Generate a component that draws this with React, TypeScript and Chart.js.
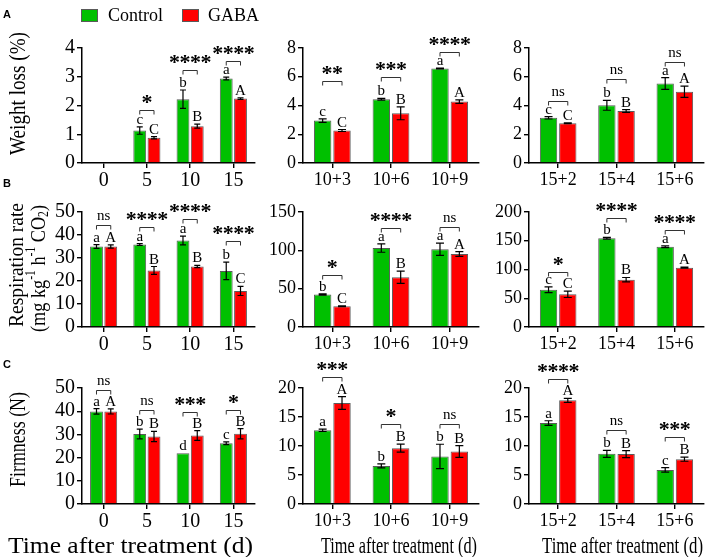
import React, { useEffect, useRef } from 'react';
import { Chart, registerables } from 'chart.js';

Chart.register(...registerables);

// ---------------- data ----------------
const seriesNames = ['Control', 'GABA'];
const dayLabels = ['0', '5', '10', '15'];
const after10Labels = ['10+3', '10+6', '10+9'];
const after15Labels = ['15+2', '15+4', '15+6'];

// Weight loss (%)
const wlDayCtrl = [null, 1.13, 2.22, 2.94];
const wlDayCtrlErr = [0, 0.13, 0.32, 0.05];
const wlDayGaba = [null, 0.88, 1.28, 2.24];
const wlDayGabaErr = [0, 0.04, 0.07, 0.03];
const wlDayCtrlLetters = ['', 'c', 'b', 'a'];
const wlDayGabaLetters = ['', 'C', 'B', 'A'];
const wlDaySig = ['', '*', '****', '****'];
const wlDayBracket = [null, 1.84, 3.23, 3.54];

const wl10Ctrl = [2.95, 4.43, 6.57];
const wl10CtrlErr = [0.12, 0.06, 0.03];
const wl10Gaba = [2.26, 3.46, 4.27];
const wl10GabaErr = [0.07, 0.45, 0.12];
const wl10CtrlLetters = ['c', 'b', 'a'];
const wl10GabaLetters = ['C', 'B', 'A'];
const wl10Sig = ['**', '***', '****'];
const wl10Bracket = [5.69, 5.99, 7.72];

const wl15Ctrl = [3.14, 4.01, 5.53];
const wl15CtrlErr = [0.08, 0.34, 0.41];
const wl15Gaba = [2.77, 3.62, 4.96];
const wl15GabaErr = [0.03, 0.1, 0.39];
const wl15CtrlLetters = ['c', 'b', 'a'];
const wl15GabaLetters = ['C', 'B', 'A'];
const wl15Sig = ['ns', 'ns', 'ns'];
const wl15Bracket = [4.33, 5.81, 7.03];

// Respiration rate (mg kg-1 h-1 CO2)
const rrDayCtrl = [35.0, 35.9, 37.6, 24.4];
const rrDayCtrlErr = [0.8, 0.4, 1.9, 3.8];
const rrDayGaba = [35.0, 24.6, 26.3, 15.7];
const rrDayGabaErr = [0.7, 1.7, 0.5, 2.0];
const rrDayCtrlLetters = ['a', 'a', 'a', 'b'];
const rrDayGabaLetters = ['A', 'B', 'B', 'C'];
const rrDaySig = ['ns', '****', '****', '****'];
const rrDayBracket = [44.2, 43.5, 46.8, 37.2];

const rr10Ctrl = [42.3, 103, 101.5];
const rr10CtrlErr = [0.8, 5.5, 8];
const rr10Gaba = [27.0, 65, 95.2];
const rr10GabaErr = [0.5, 8, 3];
const rr10CtrlLetters = ['b', 'a', 'a'];
const rr10GabaLetters = ['C', 'B', 'A'];
const rr10Sig = ['*', '****', 'ns'];
const rr10Bracket = [68.3, 129.6, 130.4];

const rr15Ctrl = [64.9, 154.5, 139.7];
const rr15CtrlErr = [5, 1.5, 1.5];
const rr15Gaba = [56.8, 82.3, 103.2];
const rr15GabaErr = [5.5, 3.8, 1];
const rr15CtrlLetters = ['c', 'b', 'a'];
const rr15GabaLetters = ['C', 'B', 'A'];
const rr15Sig = ['*', '****', '****'];
const rr15Bracket = [95.7, 190, 169];

// Firmness (N)
const fmDayCtrl = [39.9, 30.2, 21.9, 26.2];
const fmDayCtrlErr = [1.2, 2.1, 0, 0.6];
const fmDayGaba = [39.9, 29.1, 29.5, 30.3];
const fmDayGabaErr = [1.1, 2.2, 2.1, 2.2];
const fmDayCtrlLetters = ['a', 'b', 'd', 'c'];
const fmDayGabaLetters = ['A', 'B', 'B', 'B'];
const fmDaySig = ['ns', 'ns', '***', '*'];
const fmDayBracket = [49.3, 40.6, 39.6, 40.6];

const fm10Ctrl = [12.7, 6.57, 8.2];
const fm10CtrlErr = [0.2, 0.35, 2.1];
const fm10Gaba = [17.4, 9.63, 9.05];
const fm10GabaErr = [1.1, 0.7, 1.0];
const fm10CtrlLetters = ['a', 'b', 'b'];
const fm10GabaLetters = ['A', 'B', 'B'];
const fm10Sig = ['***', '*', 'ns'];
const fm10Bracket = [21.9, 13.8, 13.8];

const fm15Ctrl = [13.95, 8.65, 5.88];
const fm15CtrlErr = [0.4, 0.6, 0.4];
const fm15Gaba = [17.87, 8.6, 7.72];
const fm15GabaErr = [0.35, 0.6, 0.35];
const fm15CtrlLetters = ['a', 'b', 'c'];
const fm15GabaLetters = ['A', 'B', 'B'];
const fm15Sig = ['****', 'ns', '***'];
const fm15Bracket = [21.6, 12.7, 11.6];

const yMaxByRow = [[4, 8, 8], [50, 150, 200], [50, 20, 20]];
const yStepByRow = [[1, 2, 2], [10, 50, 50], [10, 5, 5]];

const rowTitles = ['Weight loss (%)', 'Respiration rate', 'Firmness (N)'];
const xTitle = 'Time after treatment (d)';
const panelLetters = ['A', 'B', 'C'];

// ---------------- styles / layout ----------------
const GREEN = '#00C000';
const RED = '#FF0000';
const BAR_BORDER = '#5a5a5a';
const SERIF = "'Liberation Serif', 'Times New Roman', serif";
const SANS = "'Liberation Sans', Arial, sans-serif";
const PAGE_W = 708;
const PAGE_H = 557;
const X_AXIS_H = 30;
const COLS = [
  { L: 82, R: 255, W: 40, tick: 20, cap: 3 },
  { L: 303, R: 479, W: 40, tick: 18, cap: 4 },
  { L: 529, R: 704, W: 40, tick: 18, cap: 4 },
];
const ROWS = [
  { T: 48, B: 163 },
  { T: 212, B: 327 },
  { T: 388, B: 504 },
];

type Panel = {
  labels: string[];
  ctrl: (number | null)[];
  ctrlErr: number[];
  gaba: (number | null)[];
  gabaErr: number[];
  ctrlLetters: string[];
  gabaLetters: string[];
  sig: string[];
  bracket: (number | null)[];
  row: number;
  col: number;
};

const panels: Panel[] = [
  { labels: dayLabels, ctrl: wlDayCtrl, ctrlErr: wlDayCtrlErr, gaba: wlDayGaba, gabaErr: wlDayGabaErr, ctrlLetters: wlDayCtrlLetters, gabaLetters: wlDayGabaLetters, sig: wlDaySig, bracket: wlDayBracket, row: 0, col: 0 },
  { labels: after10Labels, ctrl: wl10Ctrl, ctrlErr: wl10CtrlErr, gaba: wl10Gaba, gabaErr: wl10GabaErr, ctrlLetters: wl10CtrlLetters, gabaLetters: wl10GabaLetters, sig: wl10Sig, bracket: wl10Bracket, row: 0, col: 1 },
  { labels: after15Labels, ctrl: wl15Ctrl, ctrlErr: wl15CtrlErr, gaba: wl15Gaba, gabaErr: wl15GabaErr, ctrlLetters: wl15CtrlLetters, gabaLetters: wl15GabaLetters, sig: wl15Sig, bracket: wl15Bracket, row: 0, col: 2 },
  { labels: dayLabels, ctrl: rrDayCtrl, ctrlErr: rrDayCtrlErr, gaba: rrDayGaba, gabaErr: rrDayGabaErr, ctrlLetters: rrDayCtrlLetters, gabaLetters: rrDayGabaLetters, sig: rrDaySig, bracket: rrDayBracket, row: 1, col: 0 },
  { labels: after10Labels, ctrl: rr10Ctrl, ctrlErr: rr10CtrlErr, gaba: rr10Gaba, gabaErr: rr10GabaErr, ctrlLetters: rr10CtrlLetters, gabaLetters: rr10GabaLetters, sig: rr10Sig, bracket: rr10Bracket, row: 1, col: 1 },
  { labels: after15Labels, ctrl: rr15Ctrl, ctrlErr: rr15CtrlErr, gaba: rr15Gaba, gabaErr: rr15GabaErr, ctrlLetters: rr15CtrlLetters, gabaLetters: rr15GabaLetters, sig: rr15Sig, bracket: rr15Bracket, row: 1, col: 2 },
  { labels: dayLabels, ctrl: fmDayCtrl, ctrlErr: fmDayCtrlErr, gaba: fmDayGaba, gabaErr: fmDayGabaErr, ctrlLetters: fmDayCtrlLetters, gabaLetters: fmDayGabaLetters, sig: fmDaySig, bracket: fmDayBracket, row: 2, col: 0 },
  { labels: after10Labels, ctrl: fm10Ctrl, ctrlErr: fm10CtrlErr, gaba: fm10Gaba, gabaErr: fm10GabaErr, ctrlLetters: fm10CtrlLetters, gabaLetters: fm10GabaLetters, sig: fm10Sig, bracket: fm10Bracket, row: 2, col: 1 },
  { labels: after15Labels, ctrl: fm15Ctrl, ctrlErr: fm15CtrlErr, gaba: fm15Gaba, gabaErr: fm15GabaErr, ctrlLetters: fm15CtrlLetters, gabaLetters: fm15GabaLetters, sig: fm15Sig, bracket: fm15Bracket, row: 2, col: 2 },
];

// ---------------- text helpers ----------------
function drawFitText(ctx: CanvasRenderingContext2D, text: string, cx: number, cy: number, font: string, targetLen: number, vertical: boolean) {
  ctx.save();
  ctx.translate(cx, cy);
  if (vertical) ctx.rotate(-Math.PI / 2);
  ctx.font = font;
  const w = ctx.measureText(text).width;
  ctx.scale(targetLen / w, 1);
  ctx.textAlign = 'center';
  ctx.textBaseline = 'middle';
  ctx.fillStyle = '#000';
  ctx.fillText(text, 0, 0);
  ctx.restore();
}

type Seg = { t: string; k: 'n' | 'sup' | 'sub' };
function drawRichVertical(ctx: CanvasRenderingContext2D, segs: Seg[], cx: number, cy: number, size: number, targetLen: number) {
  ctx.save();
  ctx.translate(cx, cy);
  ctx.rotate(-Math.PI / 2);
  const fontFor = (s: Seg) => `${s.k === 'n' ? size : Math.round(size * 0.62)}px ${SERIF}`;
  const widths = segs.map((s) => {
    ctx.font = fontFor(s);
    return ctx.measureText(s.t).width;
  });
  const total = widths.reduce((a, b) => a + b, 0);
  ctx.scale(targetLen / total, 1);
  ctx.textBaseline = 'middle';
  ctx.textAlign = 'left';
  ctx.fillStyle = '#000';
  let x = -total / 2;
  segs.forEach((s, i) => {
    ctx.font = fontFor(s);
    const dy = s.k === 'sup' ? -size * 0.36 : s.k === 'sub' ? size * 0.22 : 0;
    ctx.fillText(s.t, x, dy);
    x += widths[i];
  });
  ctx.restore();
}

function drawFitXText(ctx: CanvasRenderingContext2D, text: string, cx: number, baseline: number, font: string, targetWidth: number) {
  ctx.save();
  ctx.font = font;
  const w = ctx.measureText(text).width;
  ctx.translate(cx, baseline);
  ctx.scale(targetWidth / w, 1);
  ctx.textAlign = 'center';
  ctx.textBaseline = 'alphabetic';
  ctx.fillStyle = '#000';
  ctx.fillText(text, 0, 0);
  ctx.restore();
}

function drawExtras(ctx: CanvasRenderingContext2D, p: Panel) {
  if (p.col === 0) {
    ctx.save();
    ctx.font = `bold 11px ${SANS}`;
    ctx.fillStyle = '#000';
    ctx.textAlign = 'left';
    ctx.textBaseline = 'alphabetic';
    const ly = [17.5, 187, 368][p.row];
    ctx.fillText(panelLetters[p.row], 3, ly);
    ctx.restore();
    if (p.row === 0) drawFitText(ctx, rowTitles[0], 19, 93.5, `23px ${SERIF}`, 123, true);
    if (p.row === 1) {
      drawFitText(ctx, rowTitles[1], 17.5, 265, `22px ${SERIF}`, 124, true);
      drawRichVertical(
        ctx,
        [
          { t: '(mg kg', k: 'n' },
          { t: '-1', k: 'sup' },
          { t: ' h', k: 'n' },
          { t: '-1', k: 'sup' },
          { t: ' CO', k: 'n' },
          { t: '2', k: 'sub' },
          { t: ')', k: 'n' },
        ],
        39.5,
        268.5,
        22,
        127
      );
    }
    if (p.row === 2) drawFitText(ctx, rowTitles[2], 19, 439.5, `23px ${SERIF}`, 95, true);
  }
  if (p.row === 0 && p.col === 0) {
    ctx.save();
    const boxes = [
      { x: 81, color: GREEN, tx: 108 },
      { x: 182, color: RED, tx: 208 },
    ];
    boxes.forEach((b, i) => {
      ctx.fillStyle = b.color;
      ctx.fillRect(b.x, 9, 17, 13);
      ctx.strokeStyle = BAR_BORDER;
      ctx.lineWidth = 1;
      ctx.strokeRect(b.x + 0.5, 9.5, 16, 12);
      ctx.fillStyle = '#000';
      ctx.font = `18px ${SERIF}`;
      ctx.textAlign = 'left';
      ctx.textBaseline = 'alphabetic';
      ctx.fillText(seriesNames[i], b.tx, 21);
    });
    ctx.restore();
  }
  if (p.row === 2) {
    const spec = [
      { cx: 130.5, w: 245 },
      { cx: 399, w: 156 },
      { cx: 622.5, w: 161 },
    ][p.col];
    drawFitXText(ctx, xTitle, spec.cx, 553, `23px ${SERIF}`, spec.w);
  }
}

function makeAnnotPlugin(p: Panel) {
  const colCfg = COLS[p.col];
  return {
    id: 'annot' + p.row + p.col,
    afterDatasetsDraw(chart: any) {
      const ctx: CanvasRenderingContext2D = chart.ctx;
      const yScale = chart.scales.y;
      const vals = [p.ctrl, p.gaba];
      const errs = [p.ctrlErr, p.gabaErr];
      const letters = [p.ctrlLetters, p.gabaLetters];
      ctx.save();
      for (let d = 0; d < 2; d++) {
        const meta = chart.getDatasetMeta(d);
        for (let i = 0; i < p.labels.length; i++) {
          const v = vals[d][i];
          if (v == null) continue;
          const e = errs[d][i];
          const bar = meta.data[i];
          const x = bar.x;
          let topY = yScale.getPixelForValue(v);
          if (e > 0) {
            const yT = yScale.getPixelForValue(v + e);
            const yB = yScale.getPixelForValue(v - e);
            ctx.strokeStyle = '#000';
            ctx.lineWidth = 1.2;
            ctx.beginPath();
            ctx.moveTo(x, yT);
            ctx.lineTo(x, yB);
            ctx.moveTo(x - colCfg.cap, yT);
            ctx.lineTo(x + colCfg.cap, yT);
            ctx.moveTo(x - colCfg.cap, yB);
            ctx.lineTo(x + colCfg.cap, yB);
            ctx.stroke();
            topY = yT;
          }
          const lt = letters[d][i];
          if (lt) {
            ctx.fillStyle = '#000';
            ctx.font = `15px ${SERIF}`;
            ctx.textAlign = 'center';
            ctx.textBaseline = 'alphabetic';
            ctx.fillText(lt, x, topY - 3);
          }
        }
      }
      const m0 = chart.getDatasetMeta(0);
      const m1 = chart.getDatasetMeta(1);
      for (let i = 0; i < p.labels.length; i++) {
        const lv = p.bracket[i];
        const s = p.sig[i];
        if (lv == null || !s) continue;
        const x1 = m0.data[i].x;
        const x2 = m1.data[i].x;
        const y = Math.round(yScale.getPixelForValue(lv)) + 0.5;
        ctx.strokeStyle = '#333';
        ctx.lineWidth = 1;
        ctx.beginPath();
        ctx.moveTo(x1, y + 4);
        ctx.lineTo(x1, y);
        ctx.lineTo(x2, y);
        ctx.lineTo(x2, y + 4);
        ctx.stroke();
        const cx = (x1 + x2) / 2;
        ctx.fillStyle = '#000';
        ctx.textAlign = 'center';
        if (s === 'ns') {
          ctx.font = `15px ${SERIF}`;
          ctx.textBaseline = 'alphabetic';
          ctx.fillText('ns', cx, y - 6);
        } else {
          ctx.font = `bold 22px ${SERIF}`;
          ctx.textBaseline = 'alphabetic';
          const mt = ctx.measureText('*');
          const centerY = y - 11;
          const base = centerY + (mt.actualBoundingBoxAscent - mt.actualBoundingBoxDescent) / 2;
          const n = s.length;
          for (let k = 0; k < n; k++) {
            ctx.fillText('*', cx + (k - (n - 1) / 2) * 10.5, base);
          }
        }
      }
      ctx.restore();
    },
    afterDraw(chart: any) {
      drawExtras(chart.ctx, p);
    },
  };
}

function buildConfig(p: Panel): any {
  const c = COLS[p.col];
  const r = ROWS[p.row];
  const tickFont = { family: SERIF, size: c.tick };
  return {
    type: 'bar',
    data: {
      labels: p.labels,
      datasets: [
        { label: seriesNames[0], data: p.ctrl, backgroundColor: GREEN, borderColor: BAR_BORDER, borderWidth: 1 },
        { label: seriesNames[1], data: p.gaba, backgroundColor: RED, borderColor: BAR_BORDER, borderWidth: 1 },
      ],
    },
    options: {
      responsive: false,
      animation: false,
      devicePixelRatio: 1,
      events: [],
      layout: {
        padding: {
          left: c.L - c.W,
          right: PAGE_W - c.R,
          top: r.T,
          bottom: PAGE_H - r.B - X_AXIS_H,
        },
      },
      datasets: { bar: { categoryPercentage: 0.66, barPercentage: 0.9 } },
      plugins: { legend: { display: false }, tooltip: { enabled: false }, title: { display: false } },
      scales: {
        x: {
          type: 'category',
          offset: true,
          grid: { offset: false, drawOnChartArea: false, drawTicks: true, tickLength: 5, color: '#000', lineWidth: 1.4 },
          border: { display: true, color: '#000', width: 1.5 },
          ticks: { color: '#000', font: tickFont, padding: 1, maxRotation: 0, minRotation: 0, autoSkip: false },
          afterFit: (s: any) => {
            s.height = X_AXIS_H;
          },
        },
        y: {
          min: 0,
          max: yMaxByRow[p.row][p.col],
          grid: { drawOnChartArea: false, drawTicks: true, tickLength: 5, color: '#000', lineWidth: 1.4 },
          border: { display: true, color: '#000', width: 1.5 },
          ticks: { stepSize: yStepByRow[p.row][p.col], color: '#000', font: tickFont, padding: 2, autoSkip: false },
          afterFit: (s: any) => {
            s.width = c.W;
          },
        },
      },
    },
    plugins: [makeAnnotPlugin(p)],
  };
}

export default function App() {
  const refs = useRef<(HTMLCanvasElement | null)[]>([]);
  useEffect(() => {
    const charts: Chart[] = [];
    panels.forEach((p, i) => {
      const cv = refs.current[i];
      if (cv) charts.push(new Chart(cv, buildConfig(p)));
    });
    return () => charts.forEach((c) => c.destroy());
  }, []);
  return (
    <div style={{ position: 'fixed', left: 0, top: 0, width: PAGE_W, height: PAGE_H, background: '#fff' }}>
      {panels.map((p, i) => (
        <canvas
          key={i}
          ref={(el) => {
            refs.current[i] = el;
          }}
          width={PAGE_W}
          height={PAGE_H}
          style={{ position: 'absolute', left: 0, top: 0, width: PAGE_W, height: PAGE_H }}
        />
      ))}
    </div>
  );
}
